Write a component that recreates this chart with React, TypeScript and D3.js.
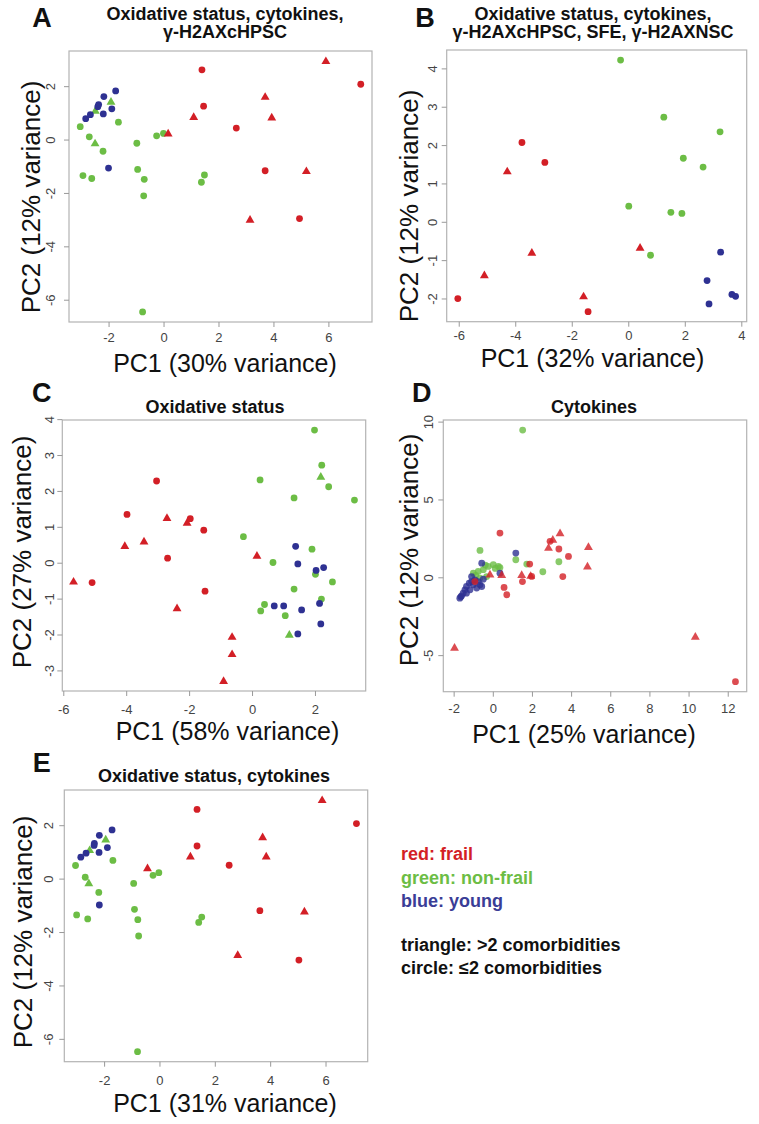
import React from 'react';
import * as d3 from 'd3';

type Pt = [number, number, 'c' | 't'];

// ---------- Panel A: Oxidative status, cytokines, γ-H2AXcHPSC ----------
const aFrail: Pt[] = [
  [1.38, 2.63, 'c'], [5.89, 2.96, 't'], [7.16, 2.09, 'c'], [3.68, 1.62, 't'],
  [1.44, 1.27, 'c'], [1.08, 0.87, 't'], [3.92, 0.85, 't'], [2.63, 0.45, 'c'],
  [0.15, 0.25, 't'], [3.68, -1.15, 'c'], [5.18, -1.16, 't'], [3.13, -2.98, 't'],
  [4.93, -2.94, 'c'],
];
const aNonFrail: Pt[] = [
  [-3.05, 0.5, 'c'], [-2.72, 0.12, 'c'], [-2.51, -0.12, 't'], [-2.22, -0.42, 'c'],
  [-1.93, 1.44, 't'], [-2.5, 1.1, 't'], [-1.66, 0.67, 'c'], [-0.99, -0.12, 'c'],
  [-0.27, 0.16, 'c'], [-0.02, 0.25, 'c'], [-0.96, -1.1, 'c'], [-0.72, -1.47, 'c'],
  [-0.74, -2.09, 'c'], [-2.95, -1.33, 'c'], [-2.63, -1.44, 'c'], [1.47, -1.31, 'c'],
  [1.36, -1.58, 'c'], [-0.78, -6.44, 'c'],
];
const aYoung: Pt[] = [
  [-2.85, 0.8, 'c'], [-2.68, 0.95, 'c'], [-2.41, 1.25, 'c'], [-2.38, 1.33, 'c'],
  [-2.19, 1.63, 'c'], [-2.21, 0.98, 'c'], [-1.9, 1.17, 'c'], [-1.76, 1.84, 'c'],
  [-2.02, -1.05, 'c'],
];
const aXTicks = [-2, 0, 2, 4, 6];
const aYTicks = [-6, -4, -2, 0, 2];

// ---------- Panel B ----------
const bFrail: Pt[] = [
  [-3.78, 2.08, 'c'], [-2.97, 1.56, 'c'], [-4.3, 1.33, 't'], [-3.43, -0.79, 't'],
  [0.4, -0.66, 't'], [-5.11, -1.38, 't'], [-6.05, -1.99, 'c'], [-1.6, -1.93, 't'],
  [-1.44, -2.33, 'c'],
];
const bNonFrail: Pt[] = [
  [-0.29, 4.23, 'c'], [1.24, 2.74, 'c'], [3.23, 2.36, 'c'], [1.93, 1.67, 'c'],
  [2.63, 1.44, 'c'], [0.0, 0.42, 'c'], [1.49, 0.26, 'c'], [1.88, 0.23, 'c'],
  [0.77, -0.86, 'c'],
];
const bYoung: Pt[] = [
  [3.25, -0.78, 'c'], [2.77, -1.52, 'c'], [2.84, -2.13, 'c'], [3.65, -1.88, 'c'],
  [3.78, -1.93, 'c'],
];
const bXTicks = [-6, -4, -2, 0, 2, 4];
const bYTicks = [-2, -1, 0, 1, 2, 3, 4];

// ---------- Panel C: Oxidative status ----------
const cFrail: Pt[] = [
  [-5.69, -0.51, 't'], [-5.1, -0.54, 'c'], [-3.99, 1.36, 'c'], [-4.06, 0.48, 't'],
  [-3.45, 0.61, 't'], [-3.05, 2.29, 'c'], [-2.72, 1.26, 't'], [-2.7, 0.14, 'c'],
  [-2.4, -1.25, 't'], [-2.08, 1.13, 't'], [-1.98, 1.24, 'c'], [-1.55, 0.92, 'c'],
  [-1.51, -0.78, 'c'], [-0.65, -2.05, 't'], [-0.65, -2.53, 't'], [-0.92, -3.28, 't'],
  [0.14, 0.21, 't'],
];
const cNonFrail: Pt[] = [
  [1.97, 3.71, 'c'], [2.2, 2.73, 'c'], [2.17, 2.41, 't'], [2.42, 2.13, 'c'],
  [3.24, 1.76, 'c'], [0.24, 2.32, 'c'], [1.32, 1.82, 'c'], [-0.29, 0.74, 'c'],
  [0.65, 0.02, 'c'], [1.89, 0.39, 'c'], [2.0, -0.31, 'c'], [2.54, -0.52, 'c'],
  [1.32, -0.72, 'c'], [2.19, -1.0, 'c'], [0.38, -1.15, 'c'], [0.26, -1.33, 'c'],
  [1.04, -1.46, 'c'], [1.17, -1.99, 't'],
];
const cYoung: Pt[] = [
  [1.37, 0.47, 'c'], [1.44, -0.02, 'c'], [2.02, -0.2, 'c'], [2.26, -0.12, 'c'],
  [0.69, -1.19, 'c'], [0.99, -1.19, 'c'], [1.56, -1.3, 'c'], [2.13, -1.12, 'c'],
  [2.17, -1.69, 'c'], [1.44, -1.97, 'c'],
];
const cXTicks = [-6, -4, -2, 0, 2];
const cYTicks = [-3, -2, -1, 0, 1, 2, 3, 4];

// ---------- Panel D: Cytokines ----------
const dFrail: Pt[] = [
  [0.34, 2.87, 'c'], [3.41, 2.87, 't'], [2.9, 2.34, 'c'], [3.04, 2.45, 't'],
  [2.82, 1.93, 't'], [4.86, 1.98, 't'], [3.35, 1.85, 'c'], [3.84, 1.37, 'c'],
  [4.81, 0.73, 't'], [3.55, 0.08, 'c'], [1.45, 0.19, 't'], [1.91, 0.13, 't'],
  [1.96, 0.09, 'c'], [1.49, -0.24, 'c'], [1.86, 0.88, 'c'], [0.43, 0.19, 't'],
  [0.55, -0.62, 'c'], [0.69, -1.09, 'c'], [-0.17, 0.22, 't'], [-0.94, -0.24, 'c'],
  [-1.98, -4.49, 't'], [10.32, -3.78, 't'], [12.37, -6.67, 'c'],
];
const dNonFrail: Pt[] = [
  [1.5, 9.49, 'c'], [-0.68, 1.76, 'c'], [-1.02, 0.3, 'c'], [-0.77, 0.41, 'c'],
  [-0.51, 0.52, 'c'], [-0.26, 0.73, 'c'], [0.0, 0.84, 'c'], [0.26, 0.73, 'c'],
  [0.34, 0.66, 'c'], [-0.34, 0.08, 'c'], [-0.68, -0.02, 'c'], [-0.41, 0.82, 'c'],
  [0.1, 0.6, 'c'], [1.15, 1.16, 'c'], [1.71, 0.88, 'c'], [2.53, 0.39, 'c'],
  [3.35, 1.03, 'c'], [-0.9, 0.15, 'c'],
];
const dYoung: Pt[] = [
  [-1.71, -1.31, 'c'], [-1.66, -1.22, 'c'], [-1.62, -1.16, 'c'], [-1.54, -0.99, 'c'],
  [-1.45, -0.77, 'c'], [-1.37, -0.56, 'c'], [-1.23, -0.34, 'c'], [-1.11, -0.24, 'c'],
  [-1.02, -0.45, 'c'], [-0.94, -0.13, 'c'], [-0.77, -0.24, 'c'], [-0.68, -0.45, 'c'],
  [-0.59, -0.56, 'c'], [-1.19, -0.77, 'c'], [-1.37, -0.99, 'c'], [-0.85, -0.66, 'c'],
  [-0.51, -0.09, 'c'], [-1.11, 0.08, 'c'], [-0.59, 0.94, 'c'], [1.15, 1.59, 'c'],
  [0.34, 0.3, 'c'],
];
const dXTicks = [-2, 0, 2, 4, 6, 8, 10, 12];
const dYTicks = [-5, 0, 5, 10];

// ---------- Panel E: Oxidative status, cytokines ----------
const eFrail: Pt[] = [
  [1.34, 2.61, 'c'], [5.86, 2.96, 't'], [7.1, 2.08, 'c'], [3.71, 1.57, 't'],
  [1.34, 1.24, 'c'], [1.1, 0.85, 't'], [3.84, 0.85, 't'], [2.5, 0.52, 'c'],
  [-0.45, 0.41, 't'], [3.61, -1.18, 'c'], [5.22, -1.21, 't'], [2.81, -2.84, 't'],
  [5.02, -3.03, 'c'],
];
const eNonFrail: Pt[] = [
  [-3.05, 0.51, 'c'], [-2.7, 0.07, 'c'], [-2.57, -0.15, 't'], [-2.21, -0.5, 'c'],
  [-1.96, 1.49, 't'], [-2.54, 1.09, 't'], [-1.7, 0.7, 'c'], [-0.95, -0.16, 'c'],
  [-0.25, 0.14, 'c'], [-0.04, 0.24, 'c'], [-0.92, -1.13, 'c'], [-0.8, -1.52, 'c'],
  [-0.77, -2.13, 'c'], [-3.01, -1.34, 'c'], [-2.61, -1.49, 'c'], [1.51, -1.42, 'c'],
  [1.4, -1.62, 'c'], [-0.81, -6.46, 'c'],
];
const eYoung: Pt[] = [
  [-2.86, 0.82, 'c'], [-2.67, 0.97, 'c'], [-2.38, 1.26, 'c'], [-2.37, 1.34, 'c'],
  [-2.19, 1.64, 'c'], [-2.2, 1.0, 'c'], [-1.9, 1.18, 'c'], [-1.73, 1.84, 'c'],
  [-2.19, -0.97, 'c'],
];
const eXTicks = [-2, 0, 2, 4, 6];
const eYTicks = [-6, -4, -2, 0, 2];

// ---------- Legend ----------
const legendColorLines = ['red: frail', 'green: non-frail', 'blue: young'];
const legendShapeLines = ['triangle: >2 comorbidities', 'circle: \u22642 comorbidities'];

// ---------- Styles ----------
const RED = '#d31f26';
const GREEN = '#6cbd45';
const BLUE = '#2e3192';
const FONT = '"Liberation Sans", Arial, Helvetica, sans-serif';

type Layout = {
  l: number; t: number; r: number; b: number;
  letter: string; letterX: number; letterY: number;
  titles: string[]; titleX: number; titleY: number[];
  xLabel: string; xLabelX: number; xLabelY: number;
  yLabel: string; yLabelX: number; yLabelY: number;
  xTickY: number; yTickX: number;
  alpha: number;
};

type PanelProps = {
  layout: Layout;
  frail: Pt[]; nonFrail: Pt[]; young: Pt[];
  xTicks: number[]; yTicks: number[];
};

function rRange(vals: number[]): [number, number] {
  const [mn, mx] = d3.extent(vals) as [number, number];
  const pad = (mx - mn) * 0.04;
  return [mn - pad, mx + pad];
}

const triPath = d3.symbol().type(d3.symbolTriangle).size(34)() as string;

function Panel({ layout: L, frail, nonFrail, young, xTicks, yTicks }: PanelProps) {
  const all = [...frail, ...nonFrail, ...young];
  const x = d3.scaleLinear().domain(rRange(all.map((p) => p[0]))).range([L.l, L.r]);
  const y = d3.scaleLinear().domain(rRange(all.map((p) => p[1]))).range([L.b, L.t]);
  const groups: [Pt[], string][] = [[nonFrail, GREEN], [young, BLUE], [frail, RED]];
  return (
    <g fontFamily={FONT}>
      <text x={L.letterX} y={L.letterY} fontSize={27} fontWeight="bold" textAnchor="middle" fill="#111">
        {L.letter}
      </text>
      {L.titles.map((t, i) => (
        <text key={i} x={L.titleX} y={L.titleY[i]} fontSize={18} fontWeight="bold" textAnchor="middle" fill="#111">
          {t}
        </text>
      ))}
      <rect x={L.l} y={L.t} width={L.r - L.l} height={L.b - L.t} fill="none" stroke="#b3b3b3" strokeWidth={1.2} />
      {xTicks.map((v) => (
        <g key={'xt' + v}>
          <line x1={x(v)} x2={x(v)} y1={L.b} y2={L.b + 5} stroke="#999" strokeWidth={1} />
          <text x={x(v)} y={L.xTickY} fontSize={13} textAnchor="middle" fill="#444">
            {v}
          </text>
        </g>
      ))}
      {yTicks.map((v) => (
        <g key={'yt' + v}>
          <line x1={L.l - 5} x2={L.l} y1={y(v)} y2={y(v)} stroke="#999" strokeWidth={1} />
          <text transform={`translate(${L.yTickX},${y(v)}) rotate(-90)`} fontSize={13} textAnchor="middle" fill="#444">
            {v}
          </text>
        </g>
      ))}
      <text x={L.xLabelX} y={L.xLabelY} fontSize={25} textAnchor="middle" fill="#111">
        {L.xLabel}
      </text>
      <text transform={`translate(${L.yLabelX},${L.yLabelY}) rotate(-90)`} fontSize={26} textAnchor="middle" fill="#111">
        {L.yLabel}
      </text>
      {groups.map(([pts, col], gi) => (
        <g key={gi} fill={col} fillOpacity={L.alpha}>
          {pts.map((p, i) =>
            p[2] === 'c' ? (
              <circle key={i} cx={x(p[0])} cy={y(p[1])} r={3.4} />
            ) : (
              <path key={i} d={triPath} transform={`translate(${x(p[0])},${y(p[1]) + 0.5})`} />
            )
          )}
        </g>
      ))}
    </g>
  );
}

const layoutA: Layout = {
  l: 69, t: 51, r: 372, b: 322, letter: 'A', letterX: 42, letterY: 27,
  titles: ['Oxidative status, cytokines,', '\u03b3-H2AXcHPSC'], titleX: 225, titleY: [20, 38],
  xLabel: 'PC1 (30% variance)', xLabelX: 225, xLabelY: 372,
  yLabel: 'PC2 (12% variance)', yLabelX: 40, yLabelY: 197,
  xTickY: 342, yTickX: 55, alpha: 1,
};
const layoutB: Layout = {
  l: 446.7, t: 50, r: 746.7, b: 321.7, letter: 'B', letterX: 425, letterY: 27,
  titles: ['Oxidative status, cytokines,', '\u03b3-H2AXcHPSC, SFE, \u03b3-H2AXNSC'], titleX: 593, titleY: [20, 38],
  xLabel: 'PC1 (32% variance)', xLabelX: 592.5, xLabelY: 367,
  yLabel: 'PC2 (12% variance)', yLabelX: 418, yLabelY: 206,
  xTickY: 339.5, yTickX: 436.5, alpha: 1,
};
const layoutC: Layout = {
  l: 62.3, t: 420, r: 365.7, b: 691, letter: 'C', letterX: 41.7, letterY: 401.7,
  titles: ['Oxidative status'], titleX: 215, titleY: [412.7],
  xLabel: 'PC1 (58% variance)', xLabelX: 227.5, xLabelY: 740,
  yLabel: 'PC2 (27% variance)', yLabelX: 31, yLabelY: 552,
  xTickY: 714, yTickX: 53.5, alpha: 1,
};
const layoutD: Layout = {
  l: 443.3, t: 420, r: 746.7, b: 691.7, letter: 'D', letterX: 421.7, letterY: 401.7,
  titles: ['Cytokines'], titleX: 594, titleY: [412.7],
  xLabel: 'PC1 (25% variance)', xLabelX: 584, xLabelY: 743,
  yLabel: 'PC2 (12% variance)', yLabelX: 418, yLabelY: 550,
  xTickY: 713, yTickX: 433.3, alpha: 0.8,
};
const layoutE: Layout = {
  l: 64.3, t: 790, r: 367.7, b: 1061.7, letter: 'E', letterX: 41.7, letterY: 771.7,
  titles: ['Oxidative status, cytokines'], titleX: 214, titleY: [781.7],
  xLabel: 'PC1 (31% variance)', xLabelX: 225, xLabelY: 1112,
  yLabel: 'PC2 (12% variance)', yLabelX: 32, yLabelY: 932,
  xTickY: 1085, yTickX: 53.3, alpha: 1,
};

export default function App() {
  const legendColors = [RED, GREEN, '#3a3d96'];
  return (
    <svg
      width={759}
      height={1124}
      viewBox="0 0 759 1124"
      style={{ position: 'absolute', left: 0, top: 0, background: '#fff' }}
    >
      <rect x={0} y={0} width={759} height={1124} fill="#fff" />
      <Panel layout={layoutA} frail={aFrail} nonFrail={aNonFrail} young={aYoung} xTicks={aXTicks} yTicks={aYTicks} />
      <Panel layout={layoutB} frail={bFrail} nonFrail={bNonFrail} young={bYoung} xTicks={bXTicks} yTicks={bYTicks} />
      <Panel layout={layoutC} frail={cFrail} nonFrail={cNonFrail} young={cYoung} xTicks={cXTicks} yTicks={cYTicks} />
      <Panel layout={layoutD} frail={dFrail} nonFrail={dNonFrail} young={dYoung} xTicks={dXTicks} yTicks={dYTicks} />
      <Panel layout={layoutE} frail={eFrail} nonFrail={eNonFrail} young={eYoung} xTicks={eXTicks} yTicks={eYTicks} />
      <g fontFamily={FONT} fontSize={18} fontWeight="bold">
        {legendColorLines.map((t, i) => (
          <text key={t} x={401} y={860 + i * 23.5} fill={legendColors[i]}>
            {t}
          </text>
        ))}
        {legendShapeLines.map((t, i) => (
          <text key={t} x={401} y={950.5 + i * 23.5} fill="#111">
            {t}
          </text>
        ))}
      </g>
    </svg>
  );
}
